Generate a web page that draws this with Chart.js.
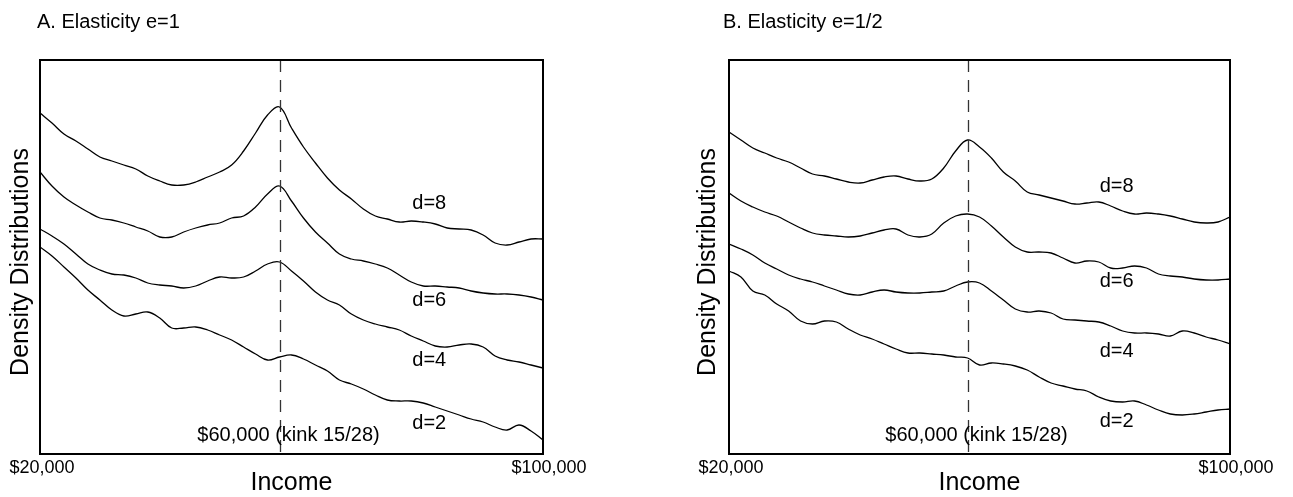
<!DOCTYPE html>
<html>
<head>
<meta charset="utf-8">
<script src="https://cdn.jsdelivr.net/npm/chart.js@4.4.1/dist/chart.umd.min.js"></script>
<style>
  body { margin: 0; background: #fff; }
  .panel { position: absolute; top: 0; }
</style>
</head>
<body>
<div class="panel" style="left:0px"><canvas id="chartA" width="647" height="497"></canvas></div>
<div class="panel" style="left:647px"><canvas id="chartB" width="646" height="497"></canvas></div>
<script>
// income grid, in $1000
const incomes = [20, 22, 24, 26, 28, 30, 32, 34, 36, 38, 40, 42, 44, 46, 48, 50, 52, 54, 56, 58, 60,
  62, 64, 66, 68, 70, 72, 74, 76, 78, 80, 82, 84, 86, 88, 90, 92, 94, 96, 98, 100, 102, 104];
const kinkIncome = 60;
const xTickLabels = ['$20,000', '$100,000'];
const seriesNames = ['d=8', 'd=6', 'd=4', 'd=2'];

// panel A: elasticity e=1 (density curves, stacked with offsets)
const densA_d8 = [341, 331, 320, 313, 305, 297, 293, 289, 285, 278, 273, 269, 269, 272, 277, 282, 289, 303, 321, 339, 347,
  326, 307, 291, 276, 264, 255, 245, 238, 235, 232, 233, 232, 230, 226, 225, 224, 219, 211, 209, 212, 215, 215];
const densA_d6 = [282, 268, 257, 249, 242, 236, 234, 231, 227, 223, 217, 217, 222, 226, 229, 231, 236, 238, 247, 260, 268,
  253, 236, 222, 211, 200, 195, 193, 190, 186, 179, 172, 168, 168, 167, 166, 163, 161, 160, 160, 159, 157, 154];
const densA_d4 = [225, 218, 210, 200, 190, 184, 180, 179, 176, 171, 169, 168, 166, 168, 173, 177, 176, 177, 183, 190, 192,
  183, 173, 162, 154, 149, 140, 134, 130, 127, 124, 118, 113, 108, 107, 109, 110, 107, 98, 94, 92, 89, 86];
const densA_d2 = [207, 198, 187, 176, 164, 154, 144, 138, 140, 142, 136, 126, 126, 127, 124, 119, 114, 107, 100, 94, 97,
  99, 95, 89, 83, 74, 70, 65, 59, 54, 53, 53, 51, 47, 43, 39, 35, 32, 27, 24, 29, 23, 14];

// panel B: elasticity e=1/2
const densB_d8 = [322, 314, 306, 301, 296, 292, 286, 280, 278, 275, 272, 271, 274, 277, 278, 275, 273, 275, 286, 303, 314,
  307, 296, 282, 273, 262, 259, 256, 253, 250, 251, 252, 248, 243, 240, 241, 240, 238, 235, 232, 231, 232, 237];
const densB_d6 = [261, 253, 247, 242, 238, 232, 226, 221, 219, 218, 217, 218, 221, 224, 225, 219, 217, 220, 231, 238, 240,
  237, 228, 217, 207, 202, 202, 201, 196, 191, 193, 192, 186, 186, 188, 186, 180, 178, 177, 175, 174, 174, 175];
const densB_d4 = [210, 205, 199, 191, 185, 179, 175, 172, 168, 164, 160, 159, 162, 164, 162, 161, 161, 162, 163, 168, 172,
  171, 163, 154, 145, 142, 143, 141, 135, 134, 133, 132, 128, 123, 121, 121, 120, 118, 123, 121, 117, 114, 110];
const densB_d2 = [183, 177, 163, 159, 150, 143, 133, 130, 133, 132, 125, 119, 115, 110, 105, 101, 101, 100, 99, 97, 96,
  89, 91, 90, 88, 84, 77, 71, 68, 65, 63, 57, 53, 52, 53, 49, 44, 40, 39, 40, 42, 44, 45];

// where the d= labels sit (income, density)
const labelIncome = 85;
const labelDensA = [251, 154, 94, 31];
const labelDensB = [268, 173, 103, 33];

const FONT = '"Liberation Sans", Arial, Helvetica, sans-serif';

function makePanel(canvasId, title, series, labelDens, pad, titleX, yTitleX) {
  const ctx = document.getElementById(canvasId).getContext('2d');

  const decor = {
    id: 'decor',
    afterDatasetsDraw(chart) {
      const c = chart.ctx;
      const a = chart.chartArea;
      const xs = chart.scales.x, ys = chart.scales.y;
      c.save();

      // kink line
      const kx = Math.round(xs.getPixelForValue(kinkIncome)) + 0.5;
      c.strokeStyle = '#333';
      c.lineWidth = 1.3;
      c.setLineDash([12, 8]);
      c.beginPath();
      c.moveTo(kx, a.top);
      c.lineTo(kx, a.bottom);
      c.stroke();
      c.setLineDash([]);

      // frame
      c.strokeStyle = '#000';
      c.lineWidth = 2;
      c.strokeRect(a.left, a.top, a.right - a.left, a.bottom - a.top);

      c.fillStyle = '#000';
      c.textBaseline = 'middle';

      // curve labels
      c.font = '20px ' + FONT;
      c.textAlign = 'center';
      seriesNames.forEach((n, i) => {
        c.fillText(n, xs.getPixelForValue(labelIncome), ys.getPixelForValue(labelDens[i]));
      });

      // kink text
      c.font = '20px ' + FONT;
      c.fillText('$60,000 (kink 15/28)', kx + 8, 435);

      // x tick labels at the axis ends
      c.font = '18px ' + FONT;
      c.fillText(xTickLabels[0], a.left + 2, 468);
      c.fillText(xTickLabels[1], a.right + 6, 468);

      // axis titles
      c.font = '25px ' + FONT;
      c.fillText('Income', (a.left + a.right) / 2, 483);
      c.save();
      c.translate(yTitleX, 262);
      c.rotate(-Math.PI / 2);
      c.fillText('Density Distributions', 0, 0);
      c.restore();

      // panel title
      c.font = '20px ' + FONT;
      c.textAlign = 'left';
      c.fillText(title, titleX, 22);

      c.restore();
    }
  };

  return new Chart(ctx, {
    type: 'line',
    data: {
      labels: incomes,
      datasets: series.map((s, i) => ({
        label: seriesNames[i],
        data: s,
        borderColor: '#000',
        borderWidth: 1.3,
        pointRadius: 0,
        tension: 0.4,
        fill: false
      }))
    },
    options: {
      responsive: false,
      animation: false,
      layout: { padding: pad },
      plugins: { legend: { display: false }, tooltip: { enabled: false }, title: { display: false } },
      scales: {
        x: { type: 'linear', min: 20, max: 104, display: false },
        y: { min: 0, max: 394, display: false }
      }
    },
    plugins: [decor]
  });
}

makePanel('chartA', 'A. Elasticity e=1', [densA_d8, densA_d6, densA_d4, densA_d2], labelDensA,
  { left: 40, top: 60, right: 104, bottom: 43 }, 37, 21);
makePanel('chartB', 'B. Elasticity e=1/2', [densB_d8, densB_d6, densB_d4, densB_d2], labelDensB,
  { left: 82, top: 60, right: 63, bottom: 43 }, 76, 61);
</script>
</body>
</html>
